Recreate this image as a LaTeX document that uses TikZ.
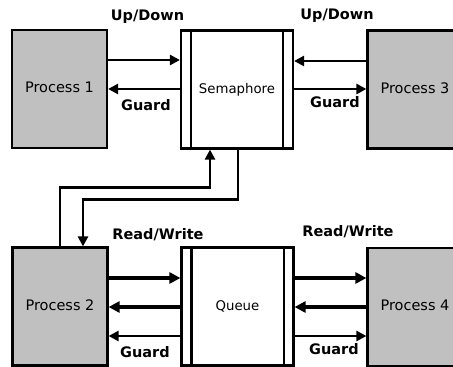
\documentclass[tikz,border=0pt]{standalone}
\usepackage{fontspec}
\setmainfont{DejaVu Sans}
\usetikzlibrary{arrows.meta}
\tikzset{
  x=1pt, y=-1pt,
  lbl/.style={inner sep=0pt, text height=0.73em, text depth=0pt},
  proc/.style={draw, line width=2.2pt, fill={rgb,255:red,192;green,192;blue,192},
    minimum width=95pt, minimum height=118pt, inner sep=0pt, lbl,
    font=\fontsize{14.5}{17}\selectfont},
  res/.style={draw, line width=2.2pt, fill=white, minimum width=112pt,
    minimum height=118pt, inner sep=0pt, lbl, font=\fontsize{13.3}{16}\selectfont},
  bar/.style={line width=2.2pt},
  thin/.style={line width=2.5pt, -{Triangle[length=10pt,width=10pt]}},
  thick/.style={line width=4.6pt, -{Triangle[length=11pt,width=11pt]}},
  tag/.style={lbl, font=\fontsize{14.5}{17}\selectfont\bfseries},
}
\begin{document}
\begin{tikzpicture}
\useasboundingbox (0,0) rectangle (453,367);
\clip (0,0) rectangle (453,367);
% nodes
\node[proc] (P1) at (59.5,89) {Process 1};
\node[res] (Sem) at (237,89.5) {Semaphore};
\node[proc] (P3) at (415,89.5) {Process 3};
\node[proc] (P2) at (60,306.5) {Process 2};
\node[res] (Que) at (237.5,306.5) {Queue};
\node[proc] (P4) at (415,307) {Process 4};
% inner bars
\draw[bar] ([xshift=11pt]Sem.north west) -- ([xshift=11pt]Sem.south west);
\draw[bar] ([xshift=-11pt]Sem.north east) -- ([xshift=-11pt]Sem.south east);
\draw[bar] ([xshift=11pt]Que.north west) -- ([xshift=11pt]Que.south west);
\draw[bar] ([xshift=-11pt]Que.north east) -- ([xshift=-11pt]Que.south east);
% P1 <-> Semaphore
\draw[thin] (P1.east |- 0,60) -- (Sem.west |- 0,60);
\draw[thin] (Sem.west |- 0,89) -- (P1.east |- 0,89);
\node[tag] (ud1) at (147.5,17) {Up/Down};
\node[tag] (g1) at (146,107) {Guard};
% P3 <-> Semaphore
\draw[thin] (P3.west |- 0,61) -- (Sem.east |- 0,61);
\draw[thin] (Sem.east |- 0,89) -- (P3.west |- 0,89);
\node[tag] (ud3) at (337,15.5) {Up/Down};
\node[tag] (g3) at (335,104) {Guard};
% P2 <-> Queue
\draw[thick] (P2.east |- 0,278) -- (Que.west |- 0,278);
\draw[thick] (Que.west |- 0,307) -- (P2.east |- 0,307);
\draw[thin] (Que.west |- 0,336) -- (P2.east |- 0,336);
\node[tag] (rw2) at (158,235.5) {Read/Write};
\node[tag] (g2) at (145,354) {Guard};
% P4 <-> Queue
\draw[thick] (Que.east |- 0,278) -- (P4.west |- 0,278);
\draw[thick] (P4.west |- 0,307) -- (Que.east |- 0,307);
\draw[thin] (Que.east |- 0,336) -- (P4.west |- 0,336);
\node[tag] (rw4) at (348,232.5) {Read/Write};
\node[tag] (g4) at (334,350.5) {Guard};
% P2 <-> Semaphore
\draw[thin] (P2.north) |- ([xshift=-27pt]Sem.south |- 0,187.5) -- ([xshift=-27pt]Sem.south);
\draw[thin] ([xshift=1pt]Sem.south) |- ([xshift=23pt]P2.north |- 0,199.5) -- ([xshift=23pt]P2.north);
\end{tikzpicture}
\end{document}
